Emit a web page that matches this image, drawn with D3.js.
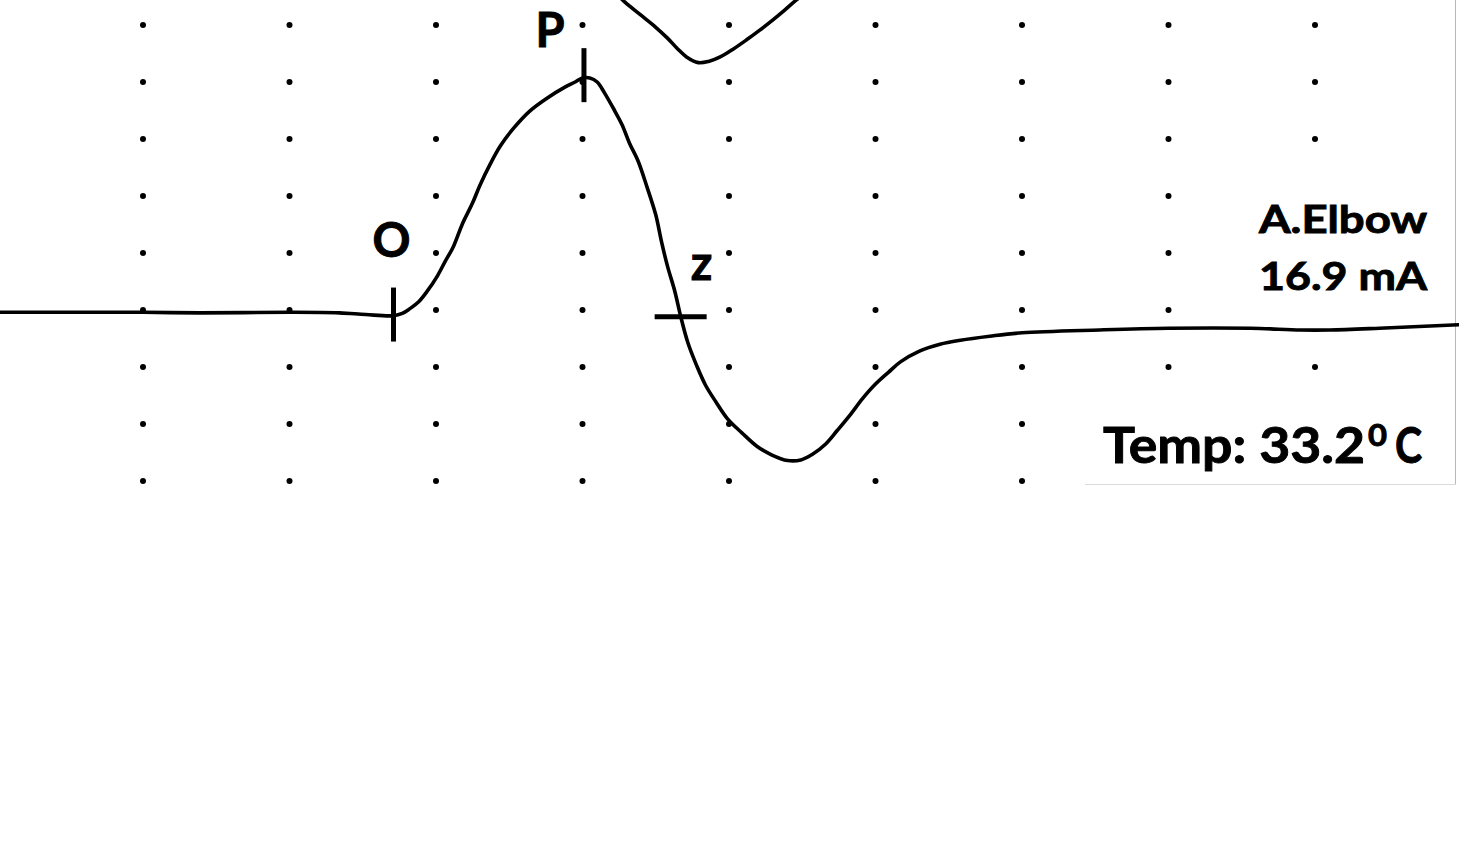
<!DOCTYPE html>
<html>
<head>
<meta charset="utf-8">
<script src="https://cdn.jsdelivr.net/npm/d3@7/dist/d3.min.js"></script>
<style>
  html, body { margin: 0; padding: 0; background: #fff; }
  svg { display: block; }
  text { font-family: "Lato", "Open Sans", sans-serif; font-weight: 700; fill: #000; stroke: #000; stroke-width: 0.9; }
</style>
</head>
<body>
<svg id="chart" width="1459" height="849"></svg>
<script>
// ---- Data (time in ms, amplitude in divisions) ----
const gridTimes = [0, 1, 2, 3, 4, 5, 6, 7, 8, 9];
const gridAmps = [5, 4, 3, 2, 1, 0, -1, -2, -3];

const mainTime = [0.00, 0.43, 1.00, 1.39, 2.00, 2.34, 2.52, 2.71, 2.77, 2.82, 2.88, 2.94, 3.01, 3.06, 3.12, 3.18, 3.25, 3.30, 3.37, 3.44, 3.53, 3.64, 3.76, 3.88, 3.95, 4.00, 4.05, 4.10, 4.15, 4.21, 4.27, 4.32, 4.38, 4.44, 4.50, 4.54, 4.58, 4.63, 4.67, 4.72, 4.78, 4.84, 4.91, 4.99, 5.09, 5.19, 5.29, 5.40, 5.49, 5.57, 5.66, 5.74, 5.83, 5.91, 6.00, 6.09, 6.17, 6.30, 6.44, 6.58, 6.78, 7.00, 7.53, 8.00, 8.56, 8.90, 9.10, 9.44, 9.98, 10.00];
const mainAmp  = [-0.04, -0.04, -0.04, -0.05, -0.04, -0.05, -0.08, -0.10, -0.06, 0.02, 0.14, 0.33, 0.60, 0.84, 1.12, 1.51, 1.88, 2.19, 2.56, 2.88, 3.19, 3.49, 3.72, 3.91, 4.00, 4.07, 4.07, 4.00, 3.81, 3.54, 3.25, 2.93, 2.61, 2.16, 1.67, 1.19, 0.77, 0.33, -0.11, -0.58, -0.98, -1.32, -1.61, -1.91, -2.16, -2.39, -2.54, -2.64, -2.63, -2.53, -2.35, -2.11, -1.83, -1.56, -1.30, -1.09, -0.91, -0.72, -0.60, -0.53, -0.46, -0.40, -0.35, -0.32, -0.32, -0.35, -0.35, -0.32, -0.26, -0.26];

const upperTime = [4.24, 4.29, 4.39, 4.50, 4.58, 4.65, 4.71, 4.79, 4.86, 4.94, 5.03, 5.12, 5.21, 5.30, 5.38, 5.46, 5.52];
const upperAmp  = [5.53, 5.40, 5.19, 4.96, 4.77, 4.58, 4.44, 4.34, 4.36, 4.44, 4.58, 4.74, 4.91, 5.09, 5.26, 5.44, 5.56];

const markerLabels = ["O", "P", "z"];
const markerTime = [2.71, 4.01, 4.67];
const markerAmp = [-0.08, 4.12, -0.12];
const markerOrient = ["v", "v", "h"];

const infoLines = ["A.Elbow", "16.9 mA"];
const tempText = "Temp: 33.2";
const tempSup = "0";
const tempUnit = "C";

// ---- Layout ----
const svg = d3.select("#chart");
svg.append("rect").attr("width", 1459).attr("height", 849).attr("fill", "#fff");

const x = d3.scaleLinear().domain([0, 10]).range([-3.5, 1461.5]);
const y = d3.scaleLinear().domain([-3, 5]).range([481, 25]);

svg.append("defs").append("clipPath").attr("id", "plotClip")
  .append("rect").attr("x", 0).attr("y", 0).attr("width", 1459).attr("height", 485);

const g = svg.append("g").attr("clip-path", "url(#plotClip)");

// dotted grid
const dots = [];
gridTimes.forEach(t => gridAmps.forEach(a => dots.push({t, a})));
g.append("g").selectAll("circle").data(dots).join("circle")
  .attr("cx", d => x(d.t)).attr("cy", d => y(d.a)).attr("r", 3).attr("fill", "#000");

// white boxes behind annotation text
g.append("rect").attr("x", 1245).attr("y", 186).attr("width", 200).attr("height", 132).attr("fill", "#fff");
g.append("rect").attr("x", 1085).attr("y", 398).attr("width", 370).attr("height", 90).attr("fill", "#fff");

// frame line on right
g.append("line").attr("x1", 1455.5).attr("x2", 1455.5).attr("y1", 0).attr("y2", 485)
  .attr("stroke", "#b8b8b8").attr("stroke-width", 1);
g.append("line").attr("x1", 1085).attr("x2", 1456).attr("y1", 484.5).attr("y2", 484.5)
  .attr("stroke", "#dadada").attr("stroke-width", 1);

const line = d3.line().x(d => x(d[0])).y(d => y(d[1])).curve(d3.curveCatmullRom.alpha(0.5));

g.append("path").datum(mainTime.map((t, i) => [t, mainAmp[i]]))
  .attr("d", line).attr("fill", "none").attr("stroke", "#000")
  .attr("stroke-width", 3.6).attr("stroke-linejoin", "round");

g.append("path").datum(upperTime.map((t, i) => [t, upperAmp[i]]))
  .attr("d", line).attr("fill", "none").attr("stroke", "#000")
  .attr("stroke-width", 3.6).attr("stroke-linejoin", "round");

// markers
const labelOffsets = [[-2, -58], [-34, -28], [21, -37]];
markerLabels.forEach((lab, i) => {
  const cx = x(markerTime[i]), cy = y(markerAmp[i]);
  if (markerOrient[i] === "v") {
    g.append("line").attr("x1", cx).attr("x2", cx).attr("y1", cy - 27).attr("y2", cy + 27)
      .attr("stroke", "#000").attr("stroke-width", 5);
  } else {
    g.append("line").attr("x1", cx - 26).attr("x2", cx + 26).attr("y1", cy).attr("y2", cy)
      .attr("stroke", "#000").attr("stroke-width", 5);
  }
  g.append("text").attr("x", cx + labelOffsets[i][0]).attr("y", cy + labelOffsets[i][1])
    .attr("text-anchor", "middle").attr("font-size", 47).text(lab);
});

// annotation text
g.append("text").attr("x", 1259).attr("y", 233).attr("font-size", 38)
  .attr("textLength", 168).attr("lengthAdjust", "spacingAndGlyphs").text(infoLines[0]);
g.append("text").attr("x", 1259).attr("y", 290).attr("font-size", 39)
  .attr("textLength", 168).attr("lengthAdjust", "spacingAndGlyphs").text(infoLines[1]);

g.append("text").attr("x", 1103).attr("y", 463).attr("font-size", 50)
  .attr("textLength", 262).attr("lengthAdjust", "spacingAndGlyphs").text(tempText);
g.append("text").attr("x", 1368).attr("y", 446).attr("font-size", 30)
  .attr("textLength", 19).attr("lengthAdjust", "spacingAndGlyphs").text(tempSup);
g.append("text").attr("x", 1395).attr("y", 463).attr("font-size", 50)
  .attr("textLength", 27).attr("lengthAdjust", "spacingAndGlyphs").text(tempUnit);
</script>
</body>
</html>
